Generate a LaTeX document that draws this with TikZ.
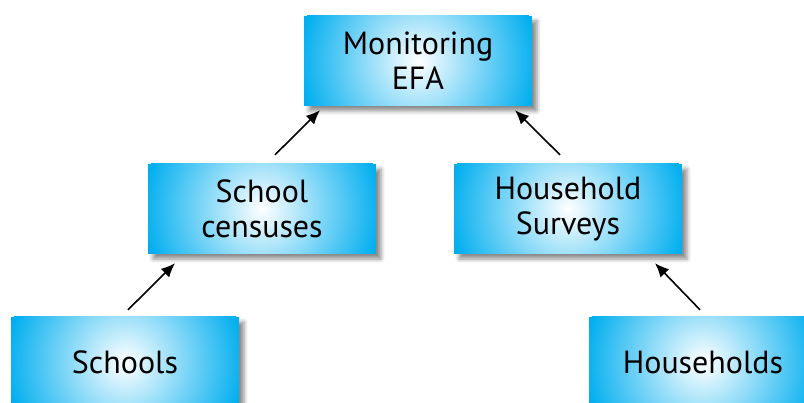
\documentclass[tikz,border=0pt]{standalone}
\usepackage{fontspec}
\setmainfont{PT Sans}
\usetikzlibrary{calc,arrows.meta,shadows.blur}
\definecolor{boxcyan}{RGB}{0,174,239}
\tikzset{
  box/.style={
    minimum width=228pt, minimum height=90pt, inner sep=0pt,
    fill=boxcyan, align=center,
    font=\fontsize{32}{35}\selectfont,
    blur shadow={shadow xshift=5pt, shadow yshift=-5pt, shadow blur radius=4pt, shadow opacity=45},
    path picture={\shade[inner color=white, outer color=boxcyan]
      (path picture bounding box.center) circle (120pt);}
  },
  arr/.style={line width=1.6pt, -{Latex[length=14pt,width=12pt]}}
}
\begin{document}
\begin{tikzpicture}[x=1pt,y=-1pt]
\useasboundingbox (0,0) rectangle (804,403);
\node[box] (mon) at (418,61) {Monitoring\\EFA};
\node[box] (cen) at (262,209) {School\\censuses};
\node[box] (hs) at (568,209) {Household\\Surveys};
\node[box] (sch) at (125,362) {Schools};
\node[box] (hh) at (703,362) {Households};
\draw[arr] ($(cen.north)+(13,-9)$) -- ($(mon.south)+(-98,4)$);
\draw[arr] ($(hs.north)+(-8,-9)$) -- ($(mon.south)+(97,4)$);
\draw[arr] ($(sch.north)+(3,-7)$) -- ($(cen.south)+(-87,9)$);
\draw[arr] ($(hh.north)+(-3,-7)$) -- ($(hs.south)+(87,9)$);
\end{tikzpicture}
\end{document}
